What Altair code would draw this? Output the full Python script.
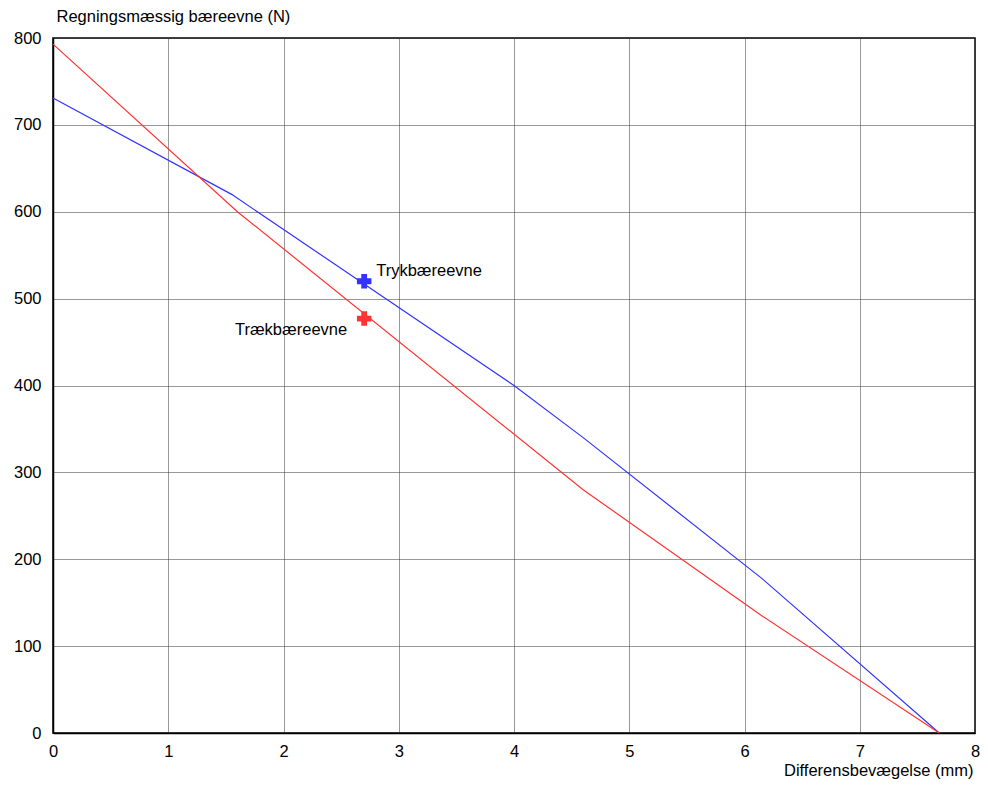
import altair as alt
import pandas as pd

# Trykbæreevne (blue)
tryk_x = [0.0, 1.55, 4.0, 4.6, 6.15, 7.69]
tryk_y = [731, 620, 400, 340, 178, 0]
# Trækbæreevne (red)
traek_x = [0.0, 1.6, 4.6, 6.15, 7.69]
traek_y = [793, 600, 280, 135, 0]

marker_x = [2.7, 2.7]
marker_y = [520, 477]
marker_names = ["Trykbæreevne", "Trækbæreevne"]

x_ticks = [0, 1, 2, 3, 4, 5, 6, 7, 8]
y_ticks = [0, 100, 200, 300, 400, 500, 600, 700, 800]

FONT = "Liberation Sans"
FS = 16.5

W, H = 922, 695

lines = pd.DataFrame(
    {"x": tryk_x + traek_x,
     "y": tryk_y + traek_y,
     "serie": ["Trykbæreevne"] * len(tryk_x) + ["Trækbæreevne"] * len(traek_x)}
)
markers = pd.DataFrame({"x": marker_x, "y": marker_y, "serie": marker_names})

xs = alt.Scale(domain=[0, 8], nice=False)
ys = alt.Scale(domain=[0, 800], nice=False)
color = alt.Scale(domain=["Trykbæreevne", "Trækbæreevne"], range=["#3333ff", "#ff3333"])
mcolor = alt.Scale(domain=["Trykbæreevne", "Trækbæreevne"], range=["#0000ff", "#ff0000"])

xaxis = alt.Axis(values=x_ticks, format="d", title="Differensbevægelse (mm)", titleAlign="right",
                 titleX=W - 2, titleY=37, titleBaseline="middle",
                 titleFontWeight="normal", tickSize=0, labelPadding=10, labelFlush=False)
yaxis = alt.Axis(values=y_ticks, format="d", title="Regningsmæssig bæreevne (N)", titleAngle=0,
                 titleAlign="left", titleX=3, titleY=-22, titleBaseline="middle",
                 titleFontWeight="normal", tickSize=0, labelPadding=12, labelFlush=False)

base_line = alt.Chart(lines).mark_line(strokeWidth=1.2).encode(
    x=alt.X("x:Q", scale=xs, axis=xaxis),
    y=alt.Y("y:Q", scale=ys, axis=yaxis),
    color=alt.Color("serie:N", scale=color, legend=None),
    detail="serie:N",
)

pts = alt.Chart(markers).mark_point(shape="cross", filled=True, size=210, opacity=1).encode(
    x=alt.X("x:Q", scale=xs),
    y=alt.Y("y:Q", scale=ys),
    color=alt.Color("serie:N", scale=mcolor, legend=None),
)

lab_tryk = alt.Chart(markers[markers.serie == "Trykbæreevne"]).mark_text(
    align="left", baseline="middle", dx=12, dy=-10, font=FONT, fontSize=FS, color="#000"
).encode(x=alt.X("x:Q", scale=xs), y=alt.Y("y:Q", scale=ys), text="serie:N")

lab_traek = alt.Chart(markers[markers.serie == "Trækbæreevne"]).mark_text(
    align="right", baseline="middle", dx=-17, dy=11, font=FONT, fontSize=FS, color="#000"
).encode(x=alt.X("x:Q", scale=xs), y=alt.Y("y:Q", scale=ys), text="serie:N")

chart = alt.layer(base_line, pts, lab_tryk, lab_traek).properties(
    width=W, height=H,
    autosize=alt.AutoSizeParams(type="none"),
    padding={"left": 45, "top": 30, "right": 5, "bottom": 46},
    background="white",
).configure_view(
    stroke="#000", strokeWidth=1.5
).configure_axis(
    labelFont=FONT, titleFont=FONT, labelFontSize=FS, titleFontSize=FS,
    labelColor="#000", titleColor="#000",
    grid=True, gridColor="#333", gridDash=[1, 1], gridWidth=1, gridOpacity=1,
    domainColor="#000", domainWidth=1.5,
)

chart.save("out.html", embed_options={"renderer": "svg", "actions": False})
